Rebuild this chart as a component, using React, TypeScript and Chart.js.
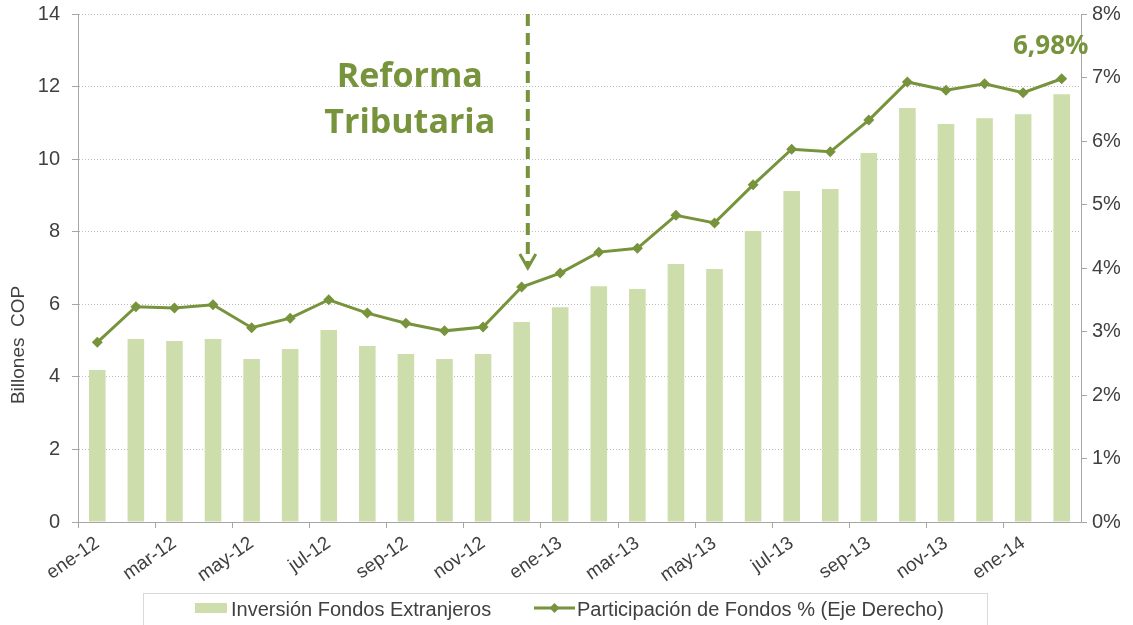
import React, { useEffect, useRef } from "react";
import { Chart, registerables } from "chart.js";

Chart.register(...registerables);

const categories = [
  "ene-12", "feb-12", "mar-12", "abr-12", "may-12", "jun-12", "jul-12", "ago-12",
  "sep-12", "oct-12", "nov-12", "dic-12", "ene-13", "feb-13", "mar-13", "abr-13",
  "may-13", "jun-13", "jul-13", "ago-13", "sep-13", "oct-13", "nov-13", "dic-13",
  "ene-14", "feb-14",
];

const inversionFondos = [
  4.19, 5.04, 4.99, 5.04, 4.49, 4.77, 5.29, 4.85, 4.63, 4.49, 4.63, 5.51, 5.92,
  6.5, 6.42, 7.11, 6.97, 8.02, 9.12, 9.18, 10.17, 11.41, 10.97, 11.13, 11.24, 11.79,
];

const participacionFondos = [
  2.83, 3.39, 3.37, 3.42, 3.06, 3.21, 3.5, 3.29, 3.13, 3.01, 3.07, 3.7, 3.92,
  4.25, 4.31, 4.83, 4.71, 5.31, 5.87, 5.83, 6.33, 6.93, 6.8, 6.9, 6.76, 6.98,
];

const leftAxisMax = 14;
const leftAxisStep = 2;
const rightAxisMax = 8;
const rightAxisStep = 1;

const barLabel = "Inversión Fondos Extranjeros";
const lineLabel = "Participación de Fondos % (Eje Derecho)";
const yAxisTitle = "Billones  COP";
const annotationLines = ["Reforma", "Tributaria"];
const lastValueLabel = "6,98%";

const arrowCategoryIndex = 11;
const arrowTipValue = 7.0;

const GREEN = "#77933C";
const BAR_GREEN = "#CDDDAC";
const TEXT = "#404040";
const AXIS = "#A6A6A6";

const overlayPlugin = {
  id: "overlay",
  afterDatasetsDraw(chart: any) {
    const ctx = chart.ctx as CanvasRenderingContext2D;
    const xs = chart.scales.x;
    const ys = chart.scales.y;
    const area = chart.chartArea;
    const catW = xs.getPixelForValue(1) - xs.getPixelForValue(0);

    ctx.save();
    // dashed arrow
    const ax = xs.getPixelForValue(arrowCategoryIndex) + 0.16 * catW;
    const tip = ys.getPixelForValue(arrowTipValue);
    ctx.strokeStyle = GREEN;
    ctx.lineWidth = 4;
    ctx.setLineDash([12, 7]);
    ctx.beginPath();
    ctx.moveTo(ax, area.top);
    ctx.lineTo(ax, tip - 3);
    ctx.stroke();
    ctx.setLineDash([]);
    ctx.lineWidth = 3;
    ctx.beginPath();
    ctx.moveTo(ax - 8, tip - 14);
    ctx.lineTo(ax, tip);
    ctx.lineTo(ax + 8, tip - 14);
    ctx.stroke();

    // annotation text
    ctx.fillStyle = GREEN;
    ctx.font = "bold 34px 'Open Sans', Lato, sans-serif";
    ctx.textAlign = "center";
    ctx.textBaseline = "alphabetic";
    const tx = xs.getPixelForValue(8.1);
    ctx.fillText(annotationLines[0], tx, ys.getPixelForValue(12));
    ctx.fillText(annotationLines[1], tx, ys.getPixelForValue(12) + 46);

    // last value label
    const meta = chart.getDatasetMeta(1);
    const lastPt = meta.data[meta.data.length - 1];
    ctx.font = "bold 26px 'Open Sans', Lato, sans-serif";
    ctx.fillText(lastValueLabel, lastPt.x - 11, lastPt.y - 25);
    ctx.restore();
  },
  afterDraw(chart: any) {
    const ctx = chart.ctx as CanvasRenderingContext2D;
    const ys = chart.scales.y;
    ctx.save();
    // y axis title
    ctx.fillStyle = TEXT;
    ctx.font = "19px 'Liberation Sans', Arial, sans-serif";
    ctx.textAlign = "center";
    ctx.textBaseline = "middle";
    ctx.translate(19, ys.getPixelForValue(4.88));
    ctx.rotate(-Math.PI / 2);
    ctx.fillText(yAxisTitle, 0, 0);
    ctx.restore();

    // legend
    ctx.save();
    ctx.fillStyle = "#FFFFFF";
    ctx.fillRect(143.5, 593.5, 844, 50);
    ctx.strokeStyle = "#D9D9D9";
    ctx.lineWidth = 1;
    ctx.strokeRect(143.5, 593.5, 844, 50);
    ctx.fillStyle = BAR_GREEN;
    ctx.fillRect(195, 603, 32, 10);
    ctx.fillStyle = TEXT;
    ctx.font = "20px 'Liberation Sans', Arial, sans-serif";
    ctx.textAlign = "left";
    ctx.textBaseline = "middle";
    ctx.fillText(barLabel, 231, 610);
    ctx.strokeStyle = GREEN;
    ctx.lineWidth = 3;
    ctx.beginPath();
    ctx.moveTo(534, 608);
    ctx.lineTo(575, 608);
    ctx.stroke();
    ctx.fillStyle = GREEN;
    ctx.beginPath();
    ctx.moveTo(554.5, 603);
    ctx.lineTo(559.5, 608);
    ctx.lineTo(554.5, 613);
    ctx.lineTo(549.5, 608);
    ctx.closePath();
    ctx.fill();
    ctx.fillStyle = TEXT;
    ctx.fillText(lineLabel, 577, 610);
    ctx.restore();
  },
};

export default function App() {
  const canvasRef = useRef<HTMLCanvasElement | null>(null);

  useEffect(() => {
    if (!canvasRef.current) return;
    Chart.defaults.font.family = "'Liberation Sans', Arial, sans-serif";
    const chart = new Chart(canvasRef.current, {
      type: "bar",
      data: {
        labels: categories,
        datasets: [
          {
            type: "bar",
            label: barLabel,
            data: inversionFondos,
            backgroundColor: BAR_GREEN,
            borderWidth: 0,
            barPercentage: 0.43,
            categoryPercentage: 1,
            yAxisID: "y",
            order: 2,
          },
          {
            type: "line",
            label: lineLabel,
            data: participacionFondos,
            borderColor: GREEN,
            backgroundColor: GREEN,
            borderWidth: 3,
            pointStyle: "rectRot",
            pointRadius: 5.5,
            pointBackgroundColor: GREEN,
            pointBorderColor: GREEN,
            pointBorderWidth: 0,
            tension: 0,
            yAxisID: "y1",
            order: 1,
          } as any,
        ],
      },
      options: {
        responsive: false,
        animation: false,
        devicePixelRatio: 1,
        layout: { padding: { top: 14, left: 0, right: 0, bottom: 0 } },
        plugins: {
          legend: { display: false },
          tooltip: { enabled: false },
        },
        scales: {
          x: {
            offset: true,
            grid: {
              offset: true,
              drawOnChartArea: false,
              drawTicks: true,
              tickLength: 6,
              color: (c: any) => (c.index !== undefined && c.index % 2 === 0 ? AXIS : "rgba(0,0,0,0)"),
            },
            border: { display: true, color: AXIS, width: 1 },
            ticks: {
              autoSkip: false,
              maxRotation: 35,
              minRotation: 35,
              color: TEXT,
              font: { size: 19 },
              padding: 4,
              callback: (_v: any, i: number) => (i % 2 === 0 ? categories[i] : ""),
            },
            afterFit: (s: any) => {
              s.height = 103;
              s.paddingLeft = 0;
              s.paddingRight = 0;
            },
          },
          y: {
            position: "left",
            min: 0,
            max: leftAxisMax,
            grid: {
              color: (c: any) => (c.tick && c.tick.value === 0 ? "rgba(0,0,0,0)" : "#BDBDBD"),
              tickColor: AXIS,
              tickLength: 6,
              lineWidth: 1,
            },
            border: { display: true, color: AXIS, width: 1, dash: [1, 2] },
            ticks: {
              stepSize: leftAxisStep,
              color: TEXT,
              font: { size: 20 },
              padding: 12,
            },
            afterFit: (s: any) => {
              s.width = 78;
              s.paddingTop = 0;
              s.paddingBottom = 0;
            },
          },
          y1: {
            position: "right",
            min: 0,
            max: rightAxisMax,
            grid: {
              drawOnChartArea: false,
              color: AXIS,
              tickLength: 6,
            },
            border: { display: true, color: AXIS, width: 1 },
            ticks: {
              stepSize: rightAxisStep,
              color: TEXT,
              font: { size: 20 },
              padding: 5,
              callback: (v: any) => `${v}%`,
            },
            afterFit: (s: any) => {
              s.width = 52;
              s.paddingTop = 0;
              s.paddingBottom = 0;
            },
          },
        },
      } as any,
      plugins: [overlayPlugin],
    });
    return () => chart.destroy();
  }, []);

  return (
    <div style={{ position: "absolute", left: 0, top: 0, width: 1133, height: 625, background: "#FFFFFF" }}>
      <canvas ref={canvasRef} width={1133} height={625} />
    </div>
  );
}
